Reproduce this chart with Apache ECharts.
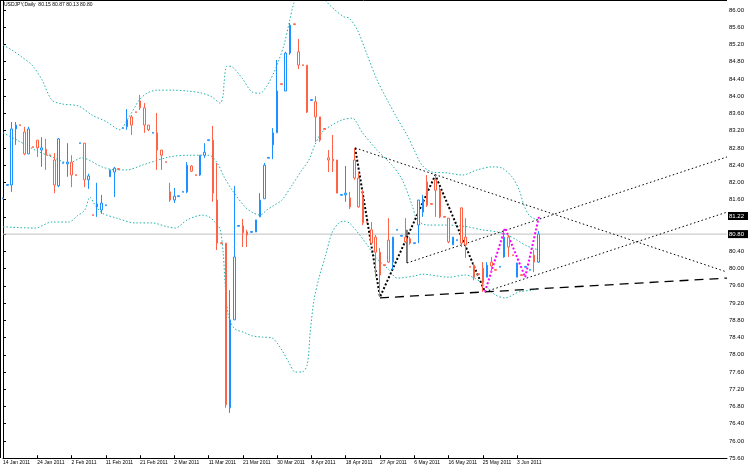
<!DOCTYPE html>
<html><head><meta charset="utf-8">
<script src="https://cdn.jsdelivr.net/npm/echarts/dist/echarts.min.js"></script>
<style>html,body{margin:0;padding:0;background:#fff}#c{width:749px;height:469px}</style>
</head><body><div id="c"></div><script>
const symbolTitle = 'USDJPY,Daily';
const tickLabels = ['14 Jan 2011','24 Jan 2011','2 Feb 2011','11 Feb 2011','21 Feb 2011','2 Mar 2011','11 Mar 2011','21 Mar 2011','30 Mar 2011','8 Apr 2011','18 Apr 2011','27 Apr 2011','6 May 2011','16 May 2011','25 May 2011','3 Jun 2011'];
const slotCount = 170;
const opens = [81.62,81.93,81.94,83.24,83.34,83.17,82.66,82.83,82.98,82.75,82.77,82.64,82.52,81.92,82.44,82.43,82.47,82.18,82.90,82.91,
82.06,81.25,81.43,81.36,81.46,82.13,82.24,82.32,83.25,83.29,83.52,83.64,83.89,83.73,83.33,83.14,83.15,82.75,82.48,81.78,
81.59,81.67,81.77,81.78,82.38,82.18,82.17,82.63,82.97,82.98,81.59,80.60,80.59,76.77,78.81,80.98,80.99,80.85,80.84,80.85,
81.20,81.62,82.56,82.87,83.15,84.29,84.12,85.00,85.68,85.03,84.73,84.72,83.90,83.87,83.52,83.25,82.57,82.54,82.52,81.70,
81.71,81.64,82.52,82.10,81.66,81.09,80.90,80.73,80.38,80.09,80.66,80.15,80.89,80.75,80.73,80.69,80.58,81.01,81.31,82.01,
81.51,82.06,81.82,81.21,81.17,80.55,80.65,81.41,80.73,80.05,80.08,79.88,80.01,79.80,80.15,79.98,80.03,80.27,80.73,80.32,
79.80,79.86,80.03,79.96,80.31,80.15];
const closes = [81.64,81.95,83.24,83.33,83.32,82.66,83.24,82.81,82.80,82.80,82.63,82.62,81.94,83.01,82.46,82.47,82.17,82.16,82.92,82.06,
82.15,81.23,81.50,81.52,81.48,82.29,82.33,82.30,83.27,83.45,83.33,83.62,83.73,83.33,83.22,83.16,82.75,82.63,82.46,81.59,
81.68,81.69,81.79,82.40,82.26,82.16,82.63,82.70,82.99,81.75,80.59,80.58,76.84,78.81,80.27,81.00,80.83,80.78,80.86,81.13,
81.59,82.40,82.58,83.15,84.12,84.27,85.00,85.65,85.66,84.72,84.71,83.63,83.92,83.52,82.98,83.23,82.52,82.50,81.75,81.72,
81.75,81.43,82.10,81.43,81.06,81.07,80.59,80.38,79.85,80.07,80.15,80.73,80.91,80.77,80.62,80.59,80.60,81.59,81.59,81.47,
81.49,81.82,81.20,81.19,80.62,80.73,80.67,80.59,80.55,80.03,79.80,79.86,79.67,80.08,80.06,79.96,80.05,80.73,80.50,80.30,
80.13,79.84,80.05,79.98,80.15,80.80];
const lows = [81.62,81.93,81.78,82.87,83.32,82.63,82.66,82.81,82.59,82.36,82.29,82.62,81.75,81.89,82.44,82.13,81.89,82.16,82.90,81.89,
81.85,81.23,81.20,81.27,81.46,82.13,81.66,82.30,83.25,83.22,83.10,83.62,83.68,83.15,83.19,83.14,82.29,82.29,82.46,81.55,
81.52,81.67,81.77,81.75,82.24,82.16,82.15,82.57,82.97,81.55,80.43,80.58,76.77,76.65,78.81,80.98,80.50,80.50,80.84,80.85,
81.20,81.62,82.56,82.54,83.15,84.27,84.12,84.96,85.66,84.63,84.71,83.61,83.90,82.94,82.94,83.23,82.24,82.24,81.75,81.70,
81.55,81.38,82.06,81.41,81.01,81.07,80.55,79.80,79.34,80.07,80.13,79.97,80.89,80.75,80.59,80.55,80.58,80.59,81.20,81.43,
81.49,81.20,81.17,81.19,80.59,80.55,80.65,80.50,80.25,80.03,79.73,79.86,79.46,79.80,79.90,79.96,80.03,80.25,80.27,80.30,
79.80,79.84,80.03,79.96,79.92,80.13];
const highs = [81.64,81.95,83.40,83.40,83.34,83.29,83.29,82.83,82.98,83.05,83.01,82.64,82.68,83.03,82.46,82.91,82.63,82.18,82.92,82.91,
82.20,81.25,81.99,81.71,81.48,82.29,82.36,82.32,83.27,83.70,83.56,83.64,84.03,83.84,83.33,83.16,83.61,82.75,82.48,81.99,
81.87,81.69,81.79,82.47,82.40,82.18,82.63,82.91,82.99,83.31,82.45,80.60,80.59,79.50,81.92,81.00,81.15,80.90,80.86,81.13,
81.75,82.45,82.58,83.26,84.84,84.29,85.03,85.70,85.68,85.33,84.73,84.72,83.92,84.00,83.52,83.25,82.75,83.10,82.52,81.72,
82.38,81.78,82.80,82.24,81.82,81.09,81.08,80.78,80.48,80.09,81.17,80.73,80.91,80.77,81.17,80.73,80.60,81.59,81.71,82.17,
81.51,82.17,81.89,81.21,81.17,80.73,80.67,81.41,81.17,80.05,80.15,79.88,80.15,80.15,80.27,79.98,80.05,80.90,80.78,80.32,
80.13,79.86,80.05,79.98,80.43,80.87];
const bbUpper = [[0,85.19],[2.1,85.07],[4.4,84.91],[6.8,84.72],[9.1,84.38],[11.4,83.91],[13.8,83.82],[17.7,83.77],[20.8,83.56],[24.3,83.40],[26.6,83.24],[27.3,83.22],[29.0,83.45],[30.8,83.75],[31.8,83.91],[33.6,84.07],[36.0,84.14],[39.5,84.14],[43.0,84.12],[46.5,84.07],[48.8,83.98],[50.7,83.84],[51.4,84.03],[51.6,84.31],[52.3,84.70],[53.5,84.68],[55.8,84.42],[58.1,84.10],[60.0,84.07],[61.6,84.24],[63.3,84.56],[64.4,84.84],[65.6,85.19],[66.8,85.70],[67.9,86.16],[69.8,86.58],[72.1,86.74],[74.0,86.46],[75.2,86.23],[77.5,86.00],[79.6,85.84],[80.8,85.81],[82.7,85.54],[85.0,84.96],[87.3,84.38],[89.7,83.91],[92.0,83.49],[94.3,83.10],[96.0,82.75],[97.8,82.40],[100.2,82.24],[103.7,82.22],[107.2,82.17],[110.7,82.29],[114.2,82.36],[116.5,82.33],[118.8,82.13],[120.5,81.82],[121.6,81.47],[122.8,81.24],[124.2,81.15],[125.1,81.13]];
const bbMiddle = [[0,83.15],[3.3,82.98],[7.5,82.75],[11.4,82.59],[15.4,82.45],[18.4,82.57],[23.1,82.36],[26.2,82.29],[29.0,82.29],[32.5,82.40],[38.8,82.59],[43.4,82.63],[48.1,82.63],[50.0,82.45],[51.6,82.13],[53.5,81.82],[56.5,81.43],[58.1,81.31],[60.0,81.24],[61.6,81.36],[63.3,81.47],[65.1,81.59],[67.5,81.94],[69.8,82.29],[71.4,82.52],[72.8,82.87],[74.5,83.17],[76.8,83.33],[79.2,83.45],[81.5,83.49],[83.8,83.17],[87.3,82.75],[90.8,82.40],[93.2,82.06],[95.5,81.47],[96.7,81.13],[99.0,81.01],[103.7,81.01],[108.4,80.97],[111.8,80.90],[115.4,80.85],[117.7,80.78],[120.0,80.66],[122.4,80.52],[125.1,80.43]];
const bbLower = [[0,80.97],[7.5,80.94],[11.4,81.08],[15.4,81.08],[17.3,81.22],[19.1,81.36],[20.3,81.66],[21.2,81.52],[23.1,81.29],[26.6,81.17],[30.8,81.06],[34.8,81.06],[38.3,80.97],[40.2,80.94],[43.0,81.13],[46.5,81.24],[48.1,81.20],[49.5,81.08],[50.7,80.90],[51.4,80.36],[51.8,79.73],[52.5,78.97],[53.9,78.62],[56.5,78.51],[58.1,78.44],[60.5,78.41],[62.8,78.39],[64.0,78.27],[65.1,78.11],[66.8,77.81],[68.2,77.60],[69.8,77.60],[71.0,77.76],[71.7,78.51],[72.6,79.27],[73.8,79.80],[75.2,80.27],[76.8,80.83],[78.4,81.06],[79.6,81.10],[80.8,81.06],[82.7,80.85],[85.0,80.55],[86.9,80.27],[90.1,79.97],[92.0,79.78],[96.2,79.83],[97.8,79.87],[104.1,79.80],[107.9,79.85],[111.8,79.67],[114.9,79.39],[117.2,79.32],[120.5,79.46],[123.5,79.50],[125.1,79.55]];
const zigzagBlack = [[82.2,82.80],[88.0,79.34],[100.9,82.17],[112.5,79.46]];
const zigzagMagenta = [[112.5,79.46],[117.2,80.94],[121.9,79.80],[125.1,81.20]];
const trendDown = [[82.2,82.80],[169,79.92]];
const trendUpA = [[94.3,80.13],[169,82.59]];
const trendUpB = [[112.5,79.46],[169,81.31]];
const supportDashed = [[88.0,79.32],[169,79.78]];
const anchorMark = [[94.3,80.90],[94.3,80.13]];
const objectPrice = 81.22;

const slots = Array.from({length: slotCount}, (_, i) => i);
const candles = opens.map((o, i) => [o, closes[i], lows[i], highs[i]]);
const lastClose = closes[closes.length - 1];
const lastBar = candles[candles.length - 1];
const priceLine = [[0, lastClose], [slotCount - 1, lastClose]];
const showTick = (i) => i % 8 === 0 && i / 8 < tickLabels.length;
const FONT = 'Liberation Sans';

function lineSeries(data, color, width, type, smooth) {
  return {type: 'line', xAxisIndex: 1, yAxisIndex: 0, data, symbol: 'none', silent: true,
    smooth: smooth || false, lineStyle: {color, width, type}, z: 3};
}

const chart = echarts.init(document.getElementById('c'), null, {renderer: 'canvas'});
chart.setOption({
  animation: false,
  backgroundColor: '#fff',
  grid: {left: 1, right: 22, top: 0, bottom: 10.8, containLabel: false},
  xAxis: [{
    type: 'category', data: slots, boundaryGap: false,
    axisLine: {show: true, lineStyle: {color: '#000', width: 1}},
    axisTick: {show: true, interval: showTick, length: 3, inside: true, lineStyle: {color: '#000'}},
    axisLabel: {interval: showTick, formatter: (v, i) => tickLabels[i / 8] || '', fontSize: 5, color: '#000', align: 'left', margin: 2, fontFamily: FONT},
    splitLine: {show: false}
  }, {
    type: 'value', min: 0, max: slotCount - 1, show: false
  }],
  yAxis: [{
    type: 'value', position: 'right', min: 75.6, max: 86.232, interval: 0.4,
    axisLine: {show: true, lineStyle: {color: '#000', width: 1}},
    axisTick: {show: true, length: 3, lineStyle: {color: '#000'}},
    axisLabel: {fontSize: 6, color: '#000', margin: 2, fontFamily: FONT, showMaxLabel: false, formatter: v => v.toFixed(2)},
    splitLine: {show: false}
  }],
  series: [
    lineSeries(priceLine, '#C0C0C0', 1, 'solid'),
    lineSeries(bbUpper, '#20B2AA', 1, [1.5, 2], 0.3),
    lineSeries(bbMiddle, '#20B2AA', 1, [1.5, 2], 0.3),
    lineSeries(bbLower, '#20B2AA', 1, [1.5, 2], 0.3),
    {
      type: 'candlestick', xAxisIndex: 0, yAxisIndex: 0, data: candles, barWidth: 2,
      itemStyle: {color: '#fff', color0: '#fff', borderColor: '#1E90FF', borderColor0: '#FF6347', borderWidth: 1},
      z: 4
    },
    lineSeries(trendDown, '#000', 1, [1.5, 2.5]),
    lineSeries(trendUpA, '#000', 1, [1.5, 2.5]),
    lineSeries(trendUpB, '#000', 1, [1.5, 2.5]),
    lineSeries(supportDashed, '#000', 1.3, [9, 6]),
    lineSeries(anchorMark, '#000', 1, 'solid'),
    lineSeries(zigzagBlack, '#000', 2, [2, 2]),
    lineSeries(zigzagMagenta, '#FF00FF', 2, [2, 2])
  ]
});

const boxY1 = chart.convertToPixel({yAxisIndex: 0}, lastClose);
const boxY2 = chart.convertToPixel({yAxisIndex: 0}, objectPrice);
const axisX = chart.convertToPixel({xAxisIndex: 1}, slotCount - 1);
function priceBox(y, txt) {
  return [
    {type: 'rect', shape: {x: axisX + 1, y: y - 4, width: 20, height: 8}, style: {fill: '#000'}, z: 100},
    {type: 'text', x: axisX + 2, y: y - 3, style: {text: txt, fill: '#fff', fontSize: 6, fontFamily: FONT}, z: 101}
  ];
}
chart.setOption({
  graphic: [
    {type: 'line', shape: {x1: 0.5, y1: 0, x2: 0.5, y2: 458}, style: {stroke: '#000', lineWidth: 1}, z: 90},
    {type: 'line', shape: {x1: 0, y1: 0.5, x2: axisX, y2: 0.5}, style: {stroke: '#000', lineWidth: 1}, z: 90},
    {type: 'text', x: 4, y: 2, style: {text: symbolTitle + '  ' + lastBar[0].toFixed(2) + ' ' + lastBar[3].toFixed(2) + ' ' + lastBar[2].toFixed(2) + ' ' + lastBar[1].toFixed(2), fill: '#000', fontSize: 5, fontFamily: FONT}, z: 100},
    ...priceBox(boxY2, objectPrice.toFixed(2)),
    ...priceBox(boxY1, lastClose.toFixed(2))
  ]
});
</script></body></html>
